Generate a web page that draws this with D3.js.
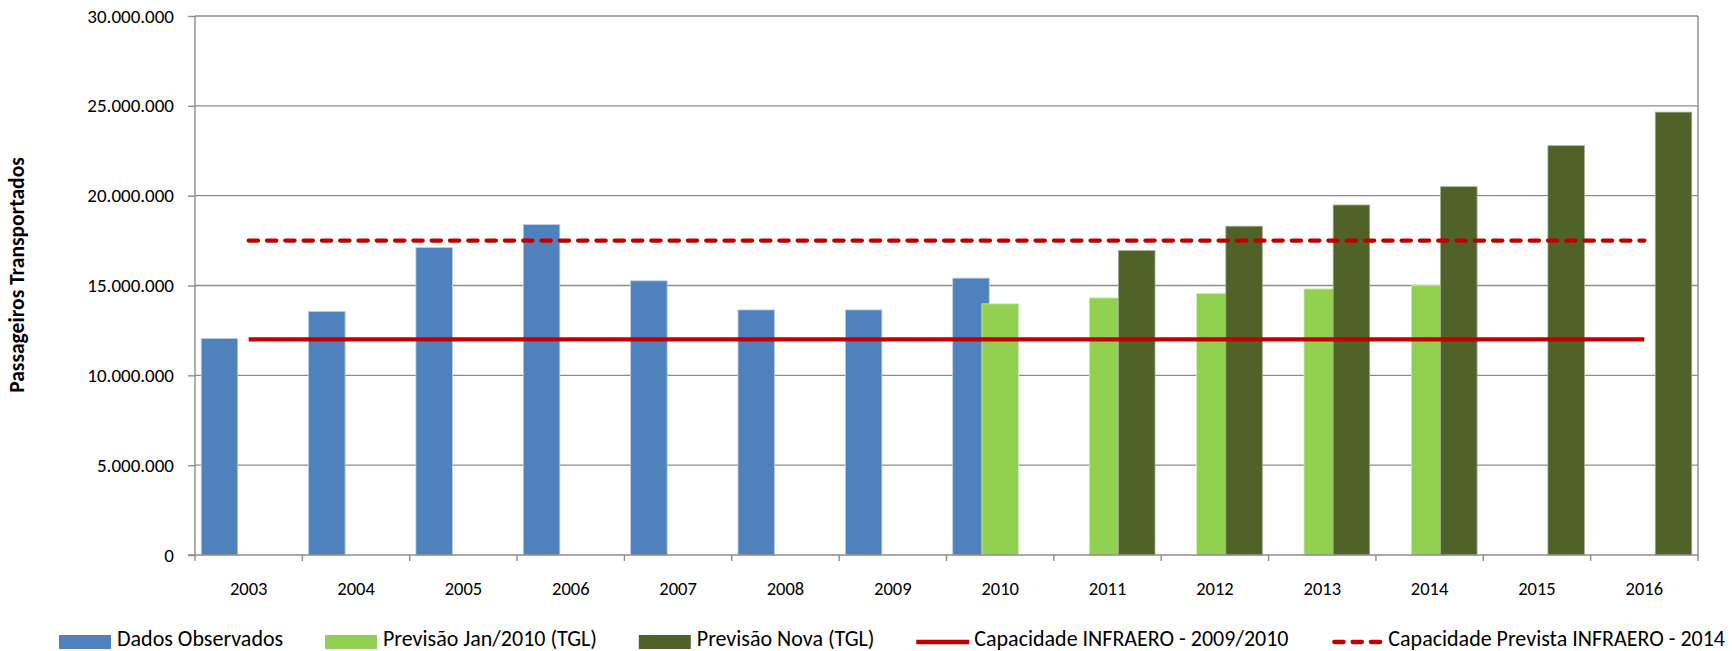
<!DOCTYPE html>
<html>
<head>
<meta charset="utf-8">
<script src="https://cdn.jsdelivr.net/npm/d3@7"></script>
<style>
  body { margin: 0; background: #fff; }
  svg text { font-family: Carlito, Calibri, Lato, sans-serif; fill: #000; }
</style>
</head>
<body>
<div id="chart"></div>
<script>
var years = ["2003", "2004", "2005", "2006", "2007", "2008", "2009", "2010",
             "2011", "2012", "2013", "2014", "2015", "2016"];

var dadosObservados = [12050000, 13550000, 17110000, 18390000, 15260000, 13640000, 13640000, 15410000,
                       null, null, null, null, null, null];
var previsaoJan = [null, null, null, null, null, null, null, 13980000,
                   14310000, 14550000, 14810000, 14990000, null, null];
var previsaoNova = [null, null, null, null, null, null, null, null,
                    16940000, 18300000, 19480000, 20500000, 22780000, 24650000];
var capacidade = [12000000, 12000000, 12000000, 12000000, 12000000, 12000000, 12000000,
                  12000000, 12000000, 12000000, 12000000, 12000000, 12000000, 12000000];
var capacidadePrevista = [17500000, 17500000, 17500000, 17500000, 17500000, 17500000, 17500000,
                          17500000, 17500000, 17500000, 17500000, 17500000, 17500000, 17500000];

var yTicks = [0, 5000000, 10000000, 15000000, 20000000, 25000000, 30000000];

var barSeries = [
  { name: "Dados Observados", values: dadosObservados, color: "#4f81bd", edge: "#b8cce4" },
  { name: "Previsão Jan/2010 (TGL)", values: previsaoJan, color: "#92d050", edge: "#d2ecb8" },
  { name: "Previsão Nova (TGL)", values: previsaoNova, color: "#4f6228", edge: "#a4ad93" }
];
var lineSeries = [
  { name: "Capacidade INFRAERO - 2009/2010", values: capacidade, dash: null },
  { name: "Capacidade Prevista INFRAERO - 2014", values: capacidadePrevista, dash: "9.3 9" }
];

var width = 1732, height = 651;
var margin = { top: 16, right: 34, bottom: 96, left: 195 };
var innerW = width - margin.left - margin.right,
    innerH = height - margin.top - margin.bottom;

var svg = d3.select("#chart").append("svg")
    .attr("width", width)
    .attr("height", height);

var g = svg.append("g")
    .attr("transform", "translate(" + margin.left + "," + margin.top + ")");

var x = d3.scaleBand()
    .domain(years)
    .range([0, innerW])
    .padding(0);

var y = d3.scaleLinear()
    .domain([0, 30000000])
    .range([innerH, 0]);

var bw = x.bandwidth(),
    barW = bw * 0.34,
    step = barW * 0.8,
    start = (bw - (barW + 2 * step)) / 2;

var fmt = function(v) {
  return d3.format(",")(v).replace(/,/g, ".");
};

// gridlines
g.append("g")
  .selectAll("line")
  .data(yTicks.slice(1))
  .enter().append("line")
    .attr("x1", 0)
    .attr("x2", innerW)
    .attr("y1", d => y(d))
    .attr("y2", d => y(d))
    .attr("stroke", "#8c8c8c")
    .attr("stroke-width", 1.4);

// right border
g.append("line")
  .attr("x1", innerW).attr("x2", innerW)
  .attr("y1", 0).attr("y2", innerH)
  .attr("stroke", "#8c8c8c")
  .attr("stroke-width", 1.4);

// bars
barSeries.forEach((s, si) => {
  g.append("g")
    .selectAll("rect")
    .data(s.values.map((v, i) => ({ year: years[i], value: v })).filter(d => d.value != null))
    .enter().append("rect")
      .attr("x", d => x(d.year) + start + si * step)
      .attr("y", d => y(d.value))
      .attr("width", barW)
      .attr("height", d => innerH - y(d.value))
      .attr("fill", s.color)
      .attr("stroke", s.edge)
      .attr("stroke-width", 0.8);
});

// y axis
var yAxis = g.append("g")
  .call(d3.axisLeft(y).tickValues(yTicks).tickFormat(fmt).tickSize(7).tickPadding(14));
yAxis.select(".domain").attr("stroke", "#8c8c8c").attr("stroke-width", 1.4)
  .attr("d", "M0,0V" + innerH);
yAxis.selectAll(".tick line").attr("stroke", "#8c8c8c").attr("stroke-width", 1.4);
yAxis.selectAll(".tick text")
  .attr("font-size", 19)
  .attr("font-family", "Carlito, Calibri, Lato, sans-serif");

// x axis
var xAxis = g.append("g")
  .attr("transform", "translate(0," + innerH + ")")
  .call(d3.axisBottom(x).tickSize(0).tickPadding(27));
xAxis.select(".domain").attr("stroke", "#8c8c8c").attr("stroke-width", 1.4)
  .attr("d", "M-7,0H" + innerW);
xAxis.selectAll(".tick text")
  .attr("font-size", 18.5)
  .attr("font-family", "Carlito, Calibri, Lato, sans-serif");
xAxis.append("g")
  .selectAll("line")
  .data(d3.range(years.length + 1))
  .enter().append("line")
    .attr("x1", i => i * bw).attr("x2", i => i * bw)
    .attr("y1", 0).attr("y2", 6)
    .attr("stroke", "#8c8c8c")
    .attr("stroke-width", 1.4);

// lines
var line = d3.line()
  .x((d, i) => x(years[i]) + bw / 2)
  .y(d => y(d));

lineSeries.forEach(s => {
  g.append("path")
    .datum(s.values)
    .attr("d", line)
    .attr("fill", "none")
    .attr("stroke", "#c00000")
    .attr("stroke-width", 4.3)
    .attr("stroke-linecap", s.dash ? "round" : "butt")
    .attr("stroke-dasharray", s.dash);
});

// y axis title
svg.append("text")
  .attr("transform", "translate(24,275) rotate(-90)")
  .attr("text-anchor", "middle")
  .attr("font-size", 21.5)
  .attr("font-weight", "bold")
  .text("Passageiros Transportados");

// legend
var legendItems = barSeries.map(s => ({ name: s.name, type: "rect", color: s.color }))
  .concat(lineSeries.map(s => ({ name: s.name, type: "line", dash: s.dash })));

var legend = svg.append("g").attr("transform", "translate(59,642)");
var items = legendItems.map(item => {
  var it = legend.append("g");
  if (item.type == "rect") {
    it.append("rect")
      .attr("x", 0).attr("y", -7)
      .attr("width", 52).attr("height", 14)
      .attr("fill", item.color);
  } else {
    it.append("line")
      .attr("x1", item.dash ? 4 : 0).attr("x2", item.dash ? 50 : 53)
      .attr("y1", 0).attr("y2", 0)
      .attr("stroke", "#c00000")
      .attr("stroke-width", 4.3)
      .attr("stroke-linecap", item.dash ? "round" : "butt")
      .attr("stroke-dasharray", item.dash);
  }
  var t = it.append("text")
    .attr("x", 58)
    .attr("y", 4)
    .attr("font-size", 22)
    .text(item.name);
  return { g: it, w: 58 + t.node().getComputedTextLength() };
});
var totalW = d3.sum(items, d => d.w);
var gap = (1725 - 59 - totalW) / (items.length - 1);
var lx = 0;
items.forEach(d => {
  d.g.attr("transform", "translate(" + lx + ",0)");
  lx += d.w + gap;
});
</script>
</body>
</html>
